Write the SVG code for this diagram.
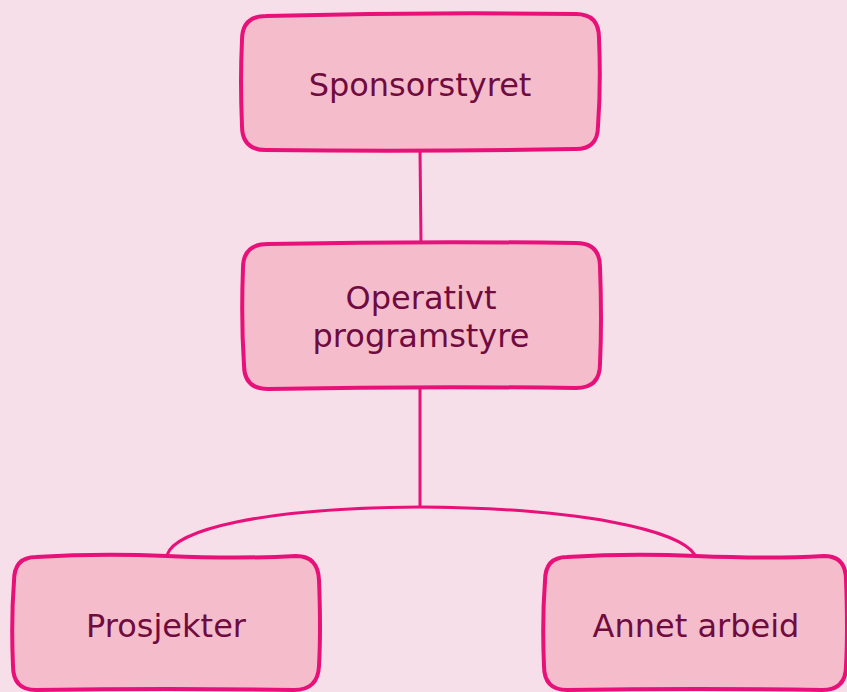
<svg xmlns="http://www.w3.org/2000/svg" width="847" height="692" viewBox="0 0 847 692">
<style>
.bg{fill:#f7dfea}
.box{fill:#f5bdcb;stroke:#e8117a;stroke-width:4;stroke-linejoin:round}
.lbl{font-family:"DejaVu Sans",Verdana,sans-serif;font-size:32px;fill:#700b40;text-anchor:middle}
.con{fill:none;stroke:#e8117a;stroke-width:3}
</style>
<rect class="bg" x="0" y="0" width="847" height="692"/>
<g id="connectors">
<path class="con" d="M420 150 L421 243"/>
<path class="con" d="M420 389 L420 507"/>
<path class="con" d="M167 555 C175 530 260 508 420 507 C580 508 680 530 695 555"/>
</g>
<g id="n1">
<path class="box" d="M266 16 Q420 12 576 14 Q599 14 599 38 Q601 85 598 126 Q598 150 574 149 Q420 152 266 150 Q242 150 242 126 Q240 80 242 40 Q242 16 266 16 Z"/>
<text class="lbl" x="420" y="96">Sponsorstyret</text>
</g>
<g id="n2">
<path class="box" d="M268 244 Q420 241 576 243 Q600 243 600 267 Q602 320 600 364 Q600 388 576 388 Q420 386 268 389 Q244 389 244 365 Q241 320 243 268 Q243 244 268 244 Z"/>
<text class="lbl" x="421" y="309">Operativt</text>
<text class="lbl" x="421" y="347">programstyre</text>
</g>
<g id="n3">
<path class="box" d="M36 557 Q100 553 167 556 Q240 559 296 556 Q318 556 319 580 Q321 630 319 666 Q318 690 294 690 Q170 688 36 690 Q13 690 13 666 Q11 620 14 581 Q14 557 36 557 Z"/>
<text class="lbl" x="166" y="637">Prosjekter</text>
</g>
<g id="n4">
<path class="box" d="M567 557 Q630 553 696 556 Q770 559 824 556 Q846 556 846 580 Q848 630 846 666 Q846 690 822 690 Q700 688 567 690 Q544 690 544 666 Q542 620 545 581 Q545 557 567 557 Z"/>
<text class="lbl" x="696" y="637">Annet arbeid</text>
</g>
</svg>
